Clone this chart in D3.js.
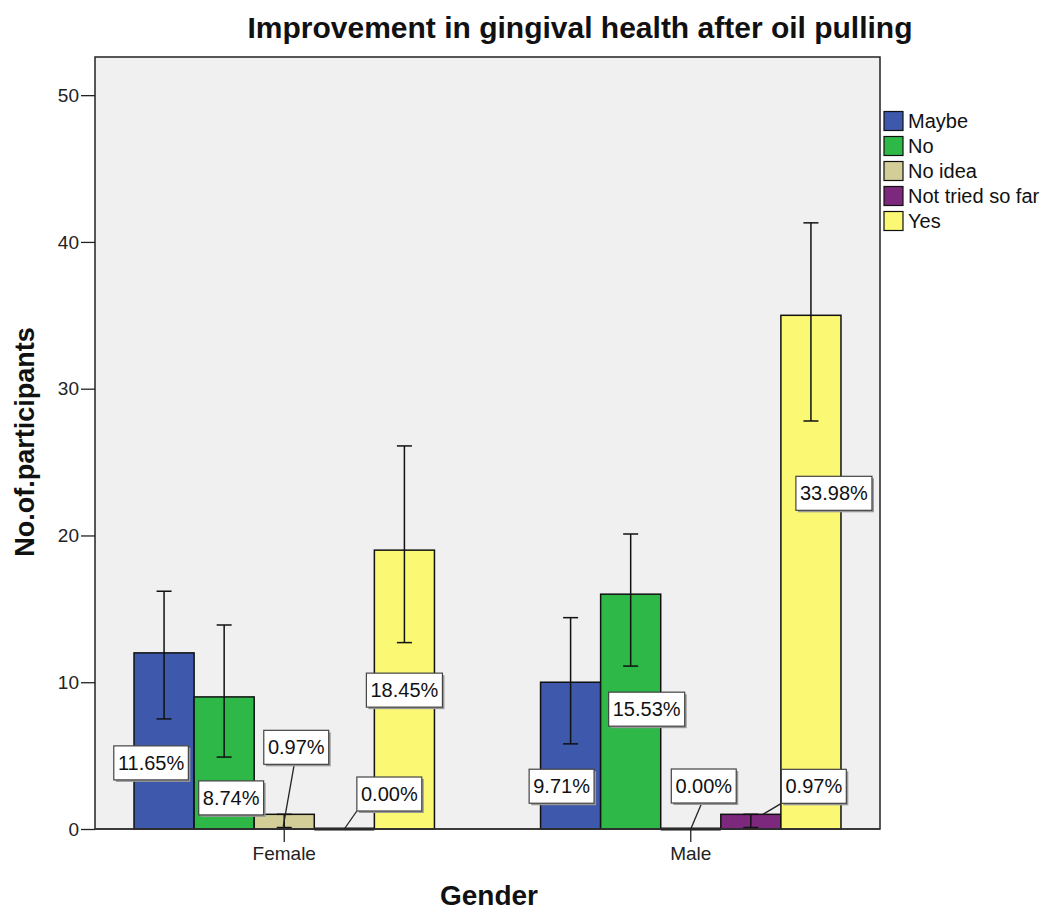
<!DOCTYPE html>
<html><head><meta charset="utf-8">
<script src="https://cdn.jsdelivr.net/npm/d3@7"></script>
<style>
body{margin:0;background:#fff;}
text{font-family:"Liberation Sans",Arial,sans-serif;}
</style></head>
<body><svg id="chart" width="1048" height="913"></svg>
<script>
// ---- data ----
const genders = ["Female", "Male"];
const responses = ["Maybe", "No", "No idea", "Not tried so far", "Yes"];
const femaleCounts = [12, 9, 1, 0, 19];
const maleCounts = [10, 16, 0, 1, 35];
const femaleLow = [7.5, 4.9, 0.1, null, 12.7];
const femaleHigh = [16.2, 13.9, 1.0, null, 26.1];
const maleLow = [5.8, 11.1, null, 0.1, 27.8];
const maleHigh = [14.4, 20.1, null, 1.0, 41.3];
const femalePct = ["11.65%", "8.74%", "0.97%", "0.00%", "18.45%"];
const malePct = ["9.71%", "15.53%", "0.00%", "0.97%", "33.98%"];
const yTicks = [0, 10, 20, 30, 40, 50];
const colors = ["#3E58AC", "#2EB848", "#D3CE97", "#7C287D", "#FBF873"];

// label box placements (pixel offsets from bar top-center), layout only
const femaleLabelOff = [[-13, 110], [7, 101], [12, -67], [45, -35], [0, 140]];
const maleLabelOff = [[-9, 104], [16, 115], [13, -43], [63, -28], [23, 178]];
// leader-line end offsets (dx, dy from bar top-center) for tiny bars, layout only
const femaleLeaderEnd = [null, null, [-1, 12], [0, 0], null];
const maleLeaderEnd = [null, null, [0, 0], [12, 0], null];

const svg = d3.select("#chart");
const L = 95, R = 880, T = 57, B = 829;

const x0 = d3.scaleBand().domain(genders).range([L, R]).paddingInner(0.261).paddingOuter(0.096);
const x1 = d3.scaleBand().domain(responses).range([0, x0.bandwidth()]);
const y = d3.scaleLinear().domain([0, 52.6]).range([B, T]);

// plot background
svg.append("rect").attr("x", L).attr("y", T).attr("width", R - L).attr("height", B - T)
  .attr("fill", "#F0F0F0").attr("stroke", "#222").attr("stroke-width", 1.5);

// title
svg.append("text").attr("x", 580).attr("y", 38).attr("text-anchor", "middle")
  .attr("font-size", 30).attr("font-weight", "bold").attr("fill", "#111")
  .text("Improvement in gingival health after oil pulling");

// y axis
const yAxis = d3.axisLeft(y).tickValues(yTicks).tickSize(14).tickPadding(2).tickFormat(d3.format("d"));
const ya = svg.append("g").attr("transform", `translate(${L},0)`).call(yAxis);
ya.select(".domain").remove();
ya.selectAll("line").attr("stroke", "#222").attr("stroke-width", 1.3);
ya.selectAll("text").attr("font-size", 19).attr("fill", "#222").attr("font-family", "Liberation Sans, Arial, sans-serif");

// x axis
const xAxis = d3.axisBottom(x0).tickSize(13).tickPadding(5);
const xa = svg.append("g").attr("transform", `translate(0,${B})`).call(xAxis);
xa.select(".domain").remove();
xa.selectAll("line").attr("stroke", "#222").attr("stroke-width", 1.3);
xa.selectAll("text").attr("font-size", 19).attr("fill", "#222").attr("font-family", "Liberation Sans, Arial, sans-serif");

// axis titles
svg.append("text").attr("transform", "translate(34,442) rotate(-90)").attr("text-anchor", "middle")
  .attr("font-size", 27).attr("font-weight", "bold").attr("fill", "#111").text("No.of.participants");
svg.append("text").attr("x", 489).attr("y", 905).attr("text-anchor", "middle")
  .attr("font-size", 28).attr("font-weight", "bold").attr("fill", "#111").text("Gender");

const groups = [
  {g: "Female", counts: femaleCounts, lo: femaleLow, hi: femaleHigh, pct: femalePct, off: femaleLabelOff, lead: femaleLeaderEnd},
  {g: "Male", counts: maleCounts, lo: maleLow, hi: maleHigh, pct: malePct, off: maleLabelOff, lead: maleLeaderEnd}
];

const plot = svg.append("g");
groups.forEach(grp => {
  const gx = x0(grp.g);
  responses.forEach((r, i) => {
    const bx = gx + x1(r), bw = x1.bandwidth(), v = grp.counts[i];
    if (v > 0) {
      plot.append("rect").attr("x", bx).attr("y", y(v)).attr("width", bw).attr("height", y(0) - y(v))
        .attr("fill", colors[i]).attr("stroke", "#111").attr("stroke-width", 1.5);
    } else {
      plot.append("line").attr("x1", bx).attr("x2", bx + bw).attr("y1", y(0)).attr("y2", y(0))
        .attr("stroke", "#111").attr("stroke-width", 3);
    }
  });
});
// baseline
svg.append("line").attr("x1", L).attr("x2", R).attr("y1", B).attr("y2", B).attr("stroke", "#333").attr("stroke-width", 1.5);

// error bars
groups.forEach(grp => {
  const gx = x0(grp.g);
  responses.forEach((r, i) => {
    if (grp.lo[i] == null) return;
    const cx = gx + x1(r) + x1.bandwidth() / 2;
    const e = plot.append("g").attr("stroke", "#111").attr("stroke-width", 1.5);
    e.append("line").attr("x1", cx).attr("x2", cx).attr("y1", y(grp.lo[i])).attr("y2", y(grp.hi[i]));
    [grp.lo[i], grp.hi[i]].forEach(v => e.append("line").attr("x1", cx - 7.5).attr("x2", cx + 7.5).attr("y1", y(v)).attr("y2", y(v)));
  });
});

// percentage labels
groups.forEach(grp => {
  const gx = x0(grp.g);
  responses.forEach((r, i) => {
    const cx = gx + x1(r) + x1.bandwidth() / 2;
    const ty = y(grp.counts[i]);
    const lx = cx + grp.off[i][0], ly = ty + grp.off[i][1];
    const g = svg.append("g");
    const t = g.append("text").attr("x", lx).attr("y", ly + 7).attr("text-anchor", "middle")
      .attr("font-size", 20).attr("fill", "#111").text(grp.pct[i]);
    const bb = t.node().getBBox();
    const w = bb.width + 8, h = 34;
    const bx = lx - w / 2, by = ly - h / 2;
    if (grp.lead[i]) {
      const ax = grp.off[i][0] > 30 ? bx : lx - 2;
      g.insert("line", "text").attr("x1", ax).attr("y1", by + h)
        .attr("x2", cx + grp.lead[i][0]).attr("y2", ty + grp.lead[i][1])
        .attr("stroke", "#222").attr("stroke-width", 1.3);
    }
    g.insert("rect", "text").attr("x", bx + 2).attr("y", by + 2).attr("width", w).attr("height", h).attr("fill", "#999");
    g.insert("rect", "text").attr("x", bx).attr("y", by).attr("width", w).attr("height", h)
      .attr("fill", "#fff").attr("stroke", "#444").attr("stroke-width", 1.2);
  });
});

// legend
const leg = svg.append("g").attr("transform", "translate(884,121)");
responses.forEach((r, i) => {
  const row = leg.append("g").attr("transform", `translate(0,${i * 25})`);
  row.append("rect").attr("x", 0).attr("y", -9.5).attr("width", 19).attr("height", 19)
    .attr("fill", colors[i]).attr("stroke", "#111").attr("stroke-width", 1.2);
  row.append("text").attr("x", 24).attr("y", 7).attr("font-size", 20).attr("fill", "#111").text(r);
});
</script></body></html>
